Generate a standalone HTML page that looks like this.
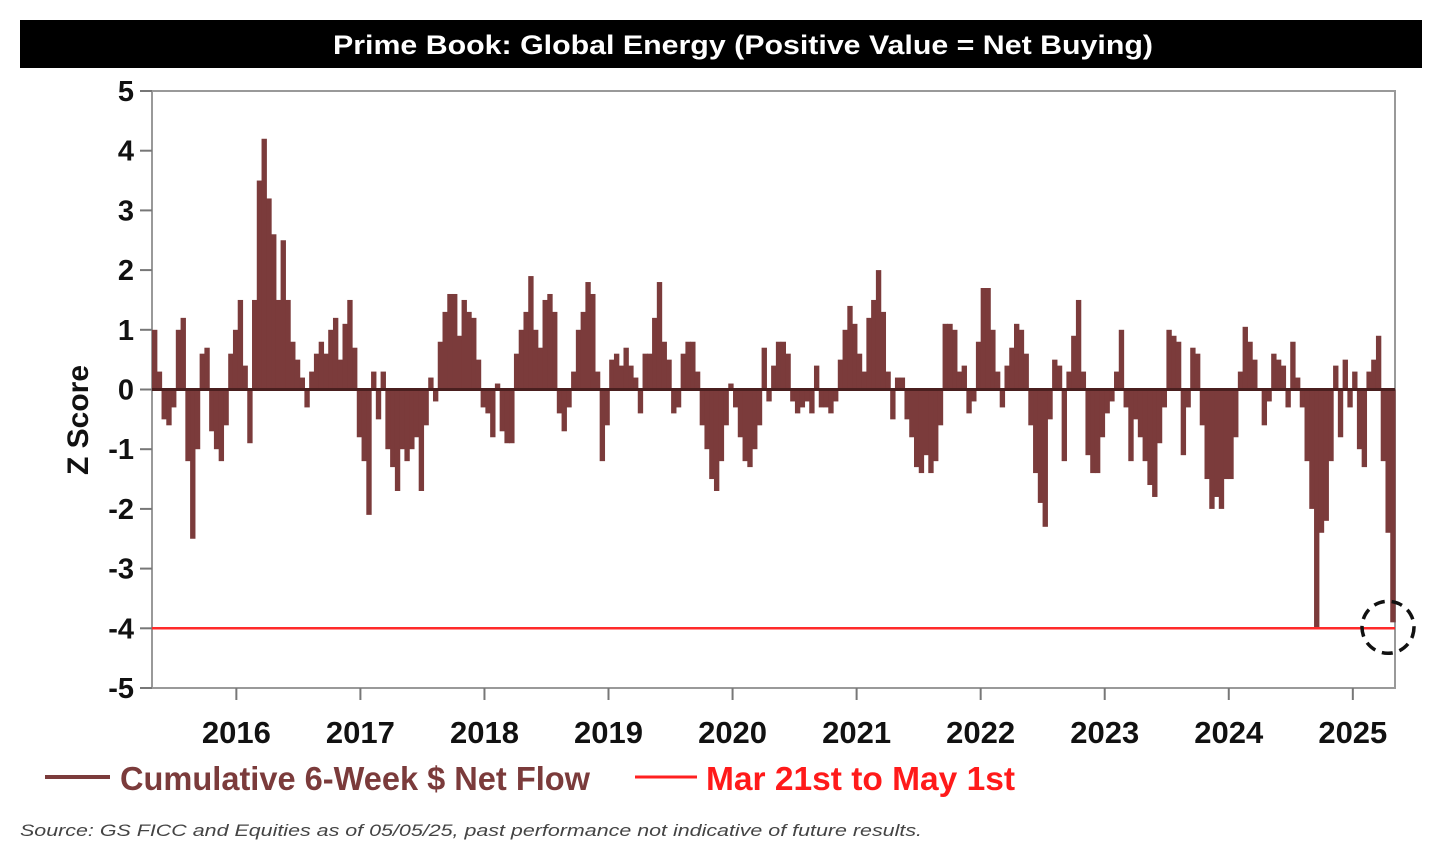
<!DOCTYPE html>
<html><head><meta charset="utf-8"><style>
body{margin:0;background:#fff;}
svg{display:block;font-family:"Liberation Sans",sans-serif;}
</style></head><body>
<svg id="chart" width="1441" height="848" viewBox="0 0 1441 848">
<rect x="20" y="20" width="1402" height="48" fill="#000"/>
<text x="743" y="54" fill="#fff" font-size="27" font-weight="bold" text-anchor="middle" textLength="820" lengthAdjust="spacingAndGlyphs">Prime Book: Global Energy (Positive Value = Net Buying)</text>
<rect x="152" y="91" width="1243" height="597" fill="none" stroke="#999" stroke-width="2"/>
<g id="bars"></g>
<g id="yaxis"></g>
<g id="xaxis"></g>
<text transform="translate(88,420) rotate(-90)" font-size="30" font-weight="bold" text-anchor="middle" fill="#111">Z Score</text>
<line x1="45" y1="777" x2="110" y2="777" stroke="#7b3b3b" stroke-width="4"/>
<text x="120" y="790" font-size="33" font-weight="bold" fill="#7b3b3b" textLength="470" lengthAdjust="spacingAndGlyphs">Cumulative 6-Week $ Net Flow</text>
<line x1="635" y1="777" x2="697" y2="777" stroke="#ff2020" stroke-width="3"/>
<text x="706" y="790" font-size="33" font-weight="bold" fill="#ff1a1a" textLength="309" lengthAdjust="spacingAndGlyphs">Mar 21st to May 1st</text>
<text x="20" y="836" font-size="17" font-style="italic" fill="#444" textLength="902" lengthAdjust="spacingAndGlyphs">Source: GS FICC and Equities as of 05/05/25, past performance not indicative of future results.</text>
</svg>
<script>
const values=[1.0,0.3,-0.5,-0.6,-0.3,1.0,1.2,-1.2,-2.5,-1.0,0.6,0.7,-0.7,-1.0,-1.2,-0.6,0.6,1.0,1.5,0.4,
-0.9,1.5,3.5,4.2,3.2,2.6,1.5,2.5,1.5,0.8,0.5,0.2,-0.3,0.3,0.6,0.8,0.6,1.0,1.2,0.5,
1.1,1.5,0.7,-0.8,-1.2,-2.1,0.3,-0.5,0.3,-1.0,-1.3,-1.7,-1.0,-1.2,-1.0,-0.8,-1.7,-0.6,0.2,-0.2,
0.8,1.3,1.6,1.6,0.9,1.5,1.3,1.2,0.5,-0.3,-0.4,-0.8,0.1,-0.7,-0.9,-0.9,0.6,1.0,1.3,1.9,
1.0,0.7,1.5,1.6,1.3,-0.4,-0.7,-0.3,0.3,1.0,1.3,1.8,1.6,0.3,-1.2,-0.6,0.5,0.6,0.4,0.7,
0.4,0.2,-0.4,0.6,0.6,1.2,1.8,0.8,0.5,-0.4,-0.3,0.6,0.8,0.8,0.3,-0.6,-1.0,-1.5,-1.7,-1.2,
-0.6,0.1,-0.3,-0.8,-1.2,-1.3,-1.0,-0.6,0.7,-0.2,0.4,0.8,0.8,0.6,-0.2,-0.4,-0.3,-0.2,-0.4,0.4,
-0.3,-0.3,-0.4,-0.2,0.5,1.0,1.4,1.1,0.6,0.3,1.2,1.5,2.0,1.3,0.3,-0.5,0.2,0.2,-0.5,-0.8,
-1.3,-1.4,-1.1,-1.4,-1.2,-0.6,1.1,1.1,1.0,0.3,0.4,-0.4,-0.2,0.8,1.7,1.7,1.0,0.3,-0.3,0.4,
0.7,1.1,1.0,0.6,-0.6,-1.4,-1.9,-2.3,-0.5,0.5,0.4,-1.2,0.3,0.9,1.5,0.3,-1.1,-1.4,-1.4,-0.8,
-0.4,-0.2,0.3,1.0,-0.3,-1.2,-0.5,-0.8,-1.2,-1.6,-1.8,-0.9,-0.3,1.0,0.9,0.8,-1.1,-0.3,0.7,0.6,
-0.6,-1.5,-2.0,-1.8,-2.0,-1.5,-1.5,-0.8,0.3,1.05,0.8,0.5,0.0,-0.6,-0.2,0.6,0.5,0.4,-0.3,0.8,
0.2,-0.3,-1.2,-2.0,-4.0,-2.4,-2.2,-1.2,0.4,-0.8,0.5,-0.3,0.3,-1.0,-1.3,0.3,0.5,0.9,-1.2,-2.4,-3.9];
const yTicks=[5,4,3,2,1,0,-1,-2,-3,-4,-5];
const xTickLabels=["2016","2017","2018","2019","2020","2021","2022","2023","2024","2025"];
const xTickYears=[2016,2017,2018,2019,2020,2021,2022,2023,2024,2025];
const startYear=2015.32, endYear=2025.34;
const highlightLevel=-4;

const NS="http://www.w3.org/2000/svg";
const L=152,R=1395,T=91,B=688;
const y=v=>T+(5-v)/10*(B-T);
const xYear=t=>L+(t-startYear)/(endYear-startYear)*(R-L);
const step=(R-L)/values.length;
const xi=i=>L+i*step;
function mk(tag,attrs,parent){const e=document.createElementNS(NS,tag);for(const k in attrs)e.setAttribute(k,attrs[k]);parent.appendChild(e);return e;}

const bars=document.getElementById('bars');
values.forEach((v,i)=>{
  const y0=y(0),y1=y(v);
  const r=mk('rect',{x:xi(i),y:Math.min(y0,y1),width:step+0.6,height:Math.abs(y1-y0),fill:'#7b3b3b'},bars);
  
  
});
const zl=mk('line',{x1:L,x2:R,y1:y(0),y2:y(0),stroke:'#4a1f1f','stroke-width':3},bars);


const rl=mk('line',{x1:L,x2:R,y1:y(highlightLevel),y2:y(highlightLevel),stroke:'#ff2a2a','stroke-width':2.5},bars);


const c=mk('circle',{cx:1388,cy:y(highlightLevel)-1,r:26,fill:'none',stroke:'#111','stroke-width':3.5,'stroke-dasharray':'11 7'},bars);



const ya=document.getElementById('yaxis');
yTicks.forEach(t=>{
  const tk=mk('line',{x1:L-12,x2:L,y1:y(t),y2:y(t),stroke:'#777','stroke-width':2},ya);
  
  
  const tx=mk('text',{x:134,y:y(t)+10,'font-size':29,'font-weight':'bold','text-anchor':'end',fill:'#111'},ya);
  tx.textContent=String(t);
  
  
});
const xa=document.getElementById('xaxis');
xTickYears.forEach((yr,i)=>{
  const X=xYear(yr);
  const tk=mk('line',{x1:X,x2:X,y1:B,y2:B+12,stroke:'#777','stroke-width':2},xa);
  
  
  const tx=mk('text',{x:X,y:743,'font-size':31,'font-weight':'bold','text-anchor':'middle',fill:'#111'},xa);
  tx.textContent=xTickLabels[i];
  
  
});
</script>
</body></html>
